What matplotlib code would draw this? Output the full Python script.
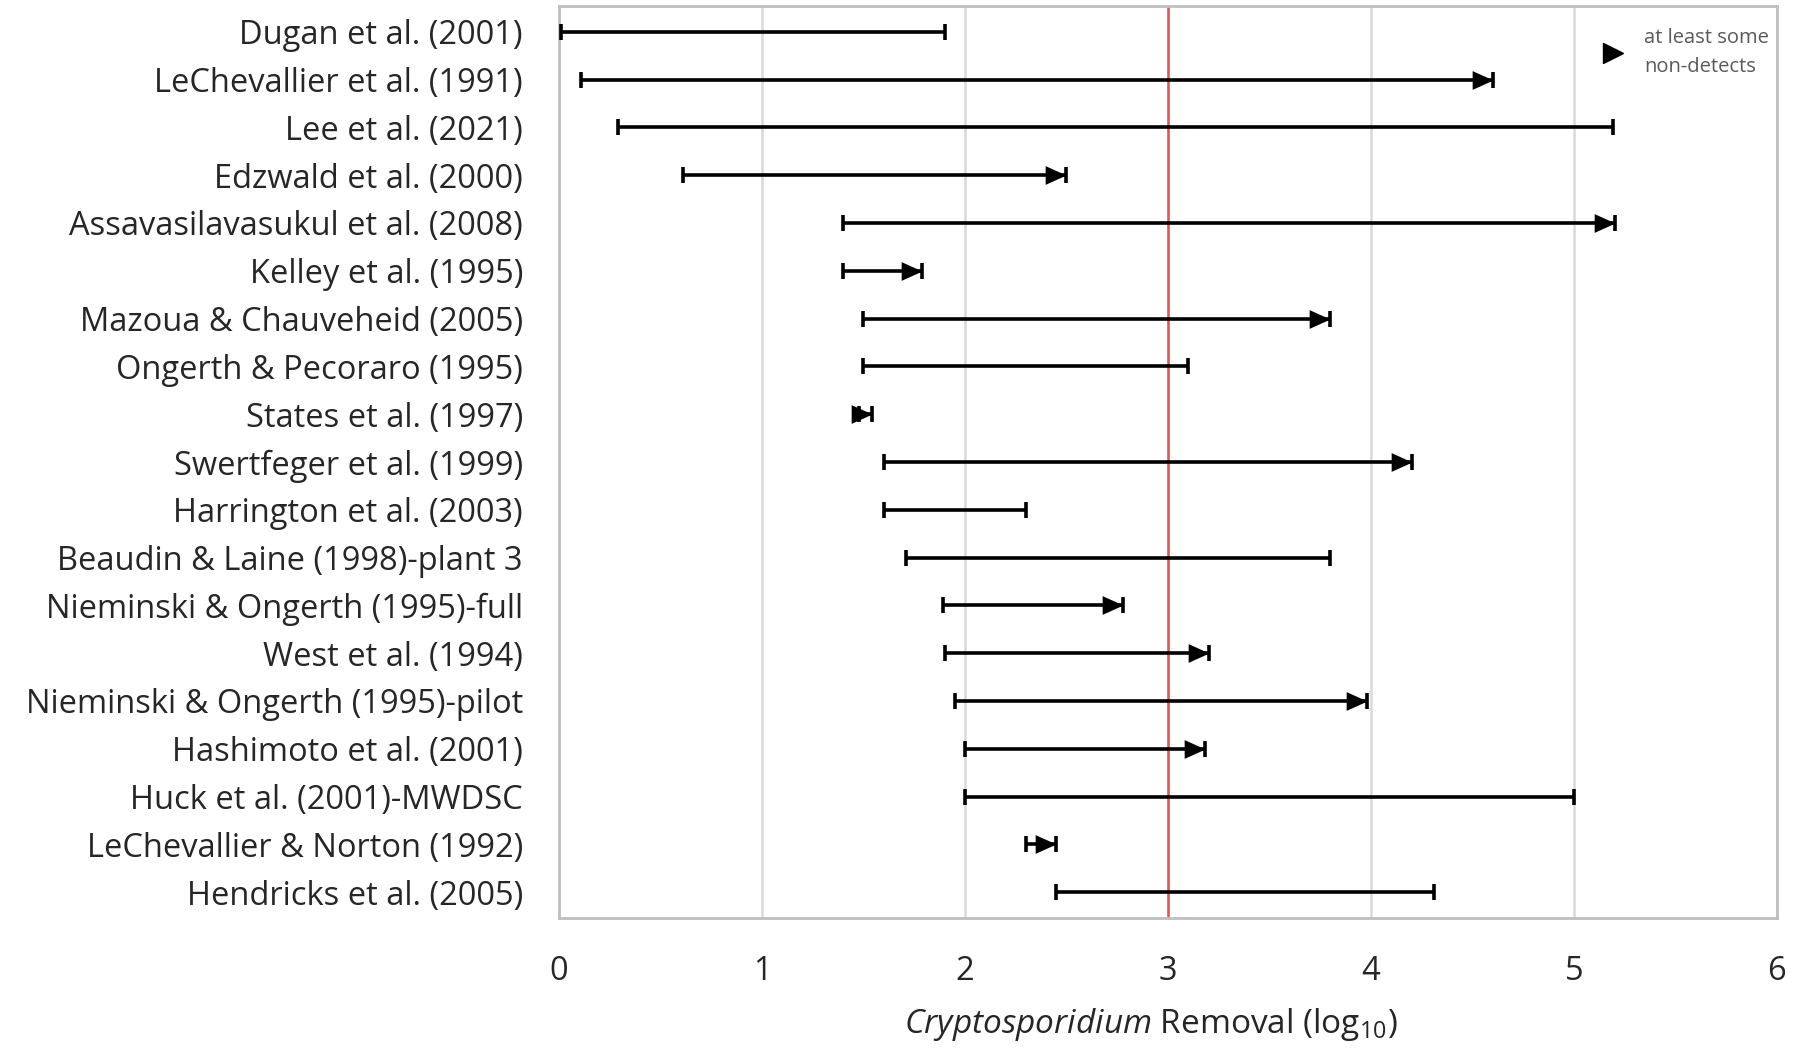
import numpy as np
import matplotlib
matplotlib.use('Agg')
import matplotlib.pyplot as plt
from matplotlib.lines import Line2D

# Studies, top to bottom
studies = ['Dugan et al. (2001)', 'LeChevallier et al. (1991)', 'Lee et al. (2021)',
           'Edzwald et al. (2000)', 'Assavasilavasukul et al. (2008)', 'Kelley et al. (1995)',
           'Mazoua & Chauveheid (2005)', 'Ongerth & Pecoraro (1995)', 'States et al. (1997)',
           'Swertfeger et al. (1999)', 'Harrington et al. (2003)', 'Beaudin & Laine (1998)-plant 3',
           'Nieminski & Ongerth (1995)-full', 'West et al. (1994)', 'Nieminski & Ongerth (1995)-pilot',
           'Hashimoto et al. (2001)', 'Huck et al. (2001)-MWDSC', 'LeChevallier & Norton (1992)',
           'Hendricks et al. (2005)']
# log10 removal range
lo = [0.01, 0.11, 0.29, 0.61, 1.40, 1.40, 1.50, 1.50, 1.48, 1.60, 1.60, 1.71, 1.89, 1.90, 1.95,
      2.00, 2.00, 2.30, 2.45]
hi = [1.90, 4.60, 5.19, 2.50, 5.20, 1.79, 3.80, 3.10, 1.54, 4.20, 2.30, 3.80, 2.78, 3.20, 3.98,
      3.18, 5.00, 2.45, 4.31]
# at least some non-detects
nondetect = [False, True, False, True, True, True, True, False, True, True, False, False, True,
             True, True, True, False, True, False]

plt.rcParams['font.family'] = ['Open Sans', 'DejaVu Sans']
plt.rcParams['mathtext.fontset'] = 'custom'
plt.rcParams['mathtext.rm'] = 'Open Sans'
plt.rcParams['mathtext.it'] = 'Open Sans:italic'

txtcol = '#262626'
fig = plt.figure(figsize=(17.94, 10.52), dpi=100)
ax = fig.add_axes([0.3116, 0.1274, 0.6789, 0.8669])

y = np.arange(len(studies))
tip = [(0, 0), (-1, 0.45), (-1, -0.45)]  # triangle with its tip at the data point

ax.hlines(y, lo, hi, color='k', lw=2.6, zorder=3)
ax.plot(lo, y, ls='none', marker='|', ms=12, mew=2.6, color='k', zorder=3)
ax.plot(hi, y, ls='none', marker='|', ms=12, mew=2.6, color='k', zorder=3)
nd = np.array(nondetect)
ax.plot(np.array(hi)[nd], y[nd], ls='none', marker=tip, ms=30, color='k', mew=0, zorder=4)

ax.axvline(3, color='#e8524f', lw=1.8, zorder=2)

ax.set_xlim(0, 6)
ax.set_ylim(len(studies) - 0.46, -0.54)
ax.set_xticks(range(7))
ax.set_yticks(y)
ax.set_yticklabels(studies)
ax.tick_params(axis='both', length=0, labelsize=23.5, labelcolor=txtcol)
ax.tick_params(axis='x', pad=27)
ax.tick_params(axis='y', pad=26)
ax.grid(axis='x', color='#d9d9d9', lw=1.8, zorder=0)
ax.set_axisbelow(True)
for s in ax.spines.values():
    s.set_color('#bfbfbf')
    s.set_linewidth(2)

ax.set_xlabel(r'$\mathit{Cryptosporidium}$ Removal (log$_{10}$)', fontsize=24,
              color=txtcol)
ax.xaxis.set_label_coords(0.486, -0.097)

h = Line2D([], [], ls='none', marker='>', ms=14, color='k')
leg = ax.legend([h], ['at least some\nnon-detects'], loc='upper right', frameon=False,
                fontsize=14.5, handletextpad=0.8, borderaxespad=0, handlelength=1.5,
                borderpad=0.3, bbox_to_anchor=(0.9986, 0.982))
for t in leg.get_texts():
    t.set_color('#595959')
    t.set_linespacing(1.6)

fig.savefig('out.png', dpi=100)
